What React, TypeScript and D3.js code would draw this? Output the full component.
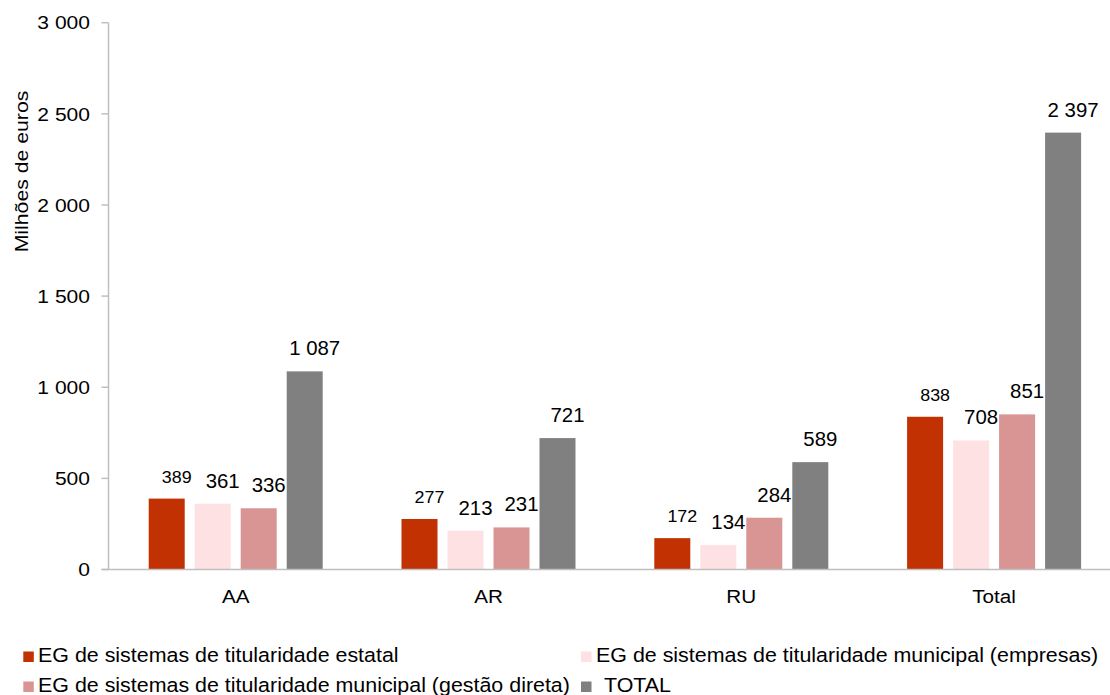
import * as d3 from "d3";
import React from "react";

// categories and values (millions of euros)
const categories = ["AA", "AR", "RU", "Total"];
const seriesNames = [
	"EG de sistemas de titularidade estatal",
	"EG de sistemas de titularidade municipal (empresas)",
	"EG de sistemas de titularidade municipal (gestão direta)",
	"TOTAL",
];
const estatal = [389, 277, 172, 838];
const municipalEmpresas = [361, 213, 134, 708];
const municipalDireta = [336, 231, 284, 851];
const total = [1087, 721, 589, 2397];
const yTicks = [0, 500, 1000, 1500, 2000, 2500, 3000];

const seriesValues = [estatal, municipalEmpresas, municipalDireta, total];
const colors = ["#C13102", "#FEE2E3", "#D99594", "#808080"];

const FONT = "'Liberation Sans', Arial, Helvetica, sans-serif";
const AXIS = "#BFBFBF";

const fmt = d3.formatLocale({
	decimal: ",",
	thousands: " ",
	grouping: [3],
	currency: ["", ""],
}).format(",d");

interface LabelProps {
	x: number;
	y: number;
	anchor?: "start" | "middle" | "end";
	size?: number;
	sx?: number;
	rotate?: number;
	children: React.ReactNode;
}

// Text in the source is drawn slightly wider than normal, so stretch along the baseline
const Label = ({ x, y, anchor = "start", size = 19, sx = 1.1, rotate, children }: LabelProps) => (
	<text
		transform={`translate(${x},${y})${rotate ? ` rotate(${rotate})` : ""} scale(${sx},1)`}
		textAnchor={anchor}
		fontSize={size}
		fontFamily={FONT}
		fill="#000"
	>
		{children}
	</text>
);

const App = () => {
	const width = 1110;
	const height = 695;

	const x0 = d3.scaleBand<string>().domain(categories).range([109.3, 1120.5]);
	const groupWidth = 174;
	const x1 = d3
		.scaleBand<number>()
		.domain(d3.range(seriesNames.length))
		.range([0, groupWidth])
		.paddingInner(10 / 46)
		.paddingOuter(0);
	const y = d3.scaleLinear().domain([0, 3000]).range([569.5, 22.7]);

	const axisX = 108.5;
	const groupStart = (c: string) => (x0(c) ?? 0) + (x0.bandwidth() - groupWidth) / 2;

	const legendItems = [
		{ i: 0, mx: 23.3, tx: 38, base: 662 },
		{ i: 1, mx: 581, tx: 596, base: 662 },
		{ i: 2, mx: 23.3, tx: 38, base: 692 },
		{ i: 3, mx: 581, tx: 604, base: 692 },
	];

	return (
		<svg
			width={width}
			height={height}
			viewBox={`0 0 ${width} ${height}`}
			style={{ position: "absolute", left: 0, top: 0, background: "#fff" }}
		>
			{/* y axis */}
			<line x1={axisX} x2={axisX} y1={y(3000)} y2={y(0)} stroke={AXIS} strokeWidth={1.5} />
			{yTicks.map((t) => (
				<g key={t}>
					<line x1={101.5} x2={axisX} y1={y(t)} y2={y(t)} stroke={AXIS} strokeWidth={1.5} />
					<Label x={90} y={y(t) + 6.7} anchor="end" size={18.8} sx={1.12}>
						{fmt(t)}
					</Label>
				</g>
			))}
			<Label x={27.5} y={171.5} anchor="middle" rotate={-90} size={18.8} sx={1.13}>
				Milhões de euros
			</Label>

			{/* bars */}
			{categories.map((c, ci) => (
				<g key={c} transform={`translate(${groupStart(c)},0)`}>
					{seriesValues.map((vals, si) => {
						const v = vals[ci];
						const bx = x1(si) ?? 0;
						const bw = x1.bandwidth();
						return (
							<g key={si}>
								<rect x={bx} y={y(v)} width={bw} height={y(0) - y(v)} fill={colors[si]} />
								<Label
									x={bx + bw / 2 + 10}
									y={y(v) - 16}
									anchor="middle"
									size={si === 0 ? 17 : 20}
									sx={si === 0 ? 1.05 : 1.02}
								>
									{fmt(v)}
								</Label>
							</g>
						);
					})}
				</g>
			))}

			{/* x axis */}
			<line x1={101.5} x2={width} y1={y(0)} y2={y(0)} stroke={AXIS} strokeWidth={1.5} />
			{categories.map((c) => (
				<Label key={c} x={(x0(c) ?? 0) + x0.bandwidth() / 2} y={602.5} anchor="middle" size={18.8} sx={1.1}>
					{c}
				</Label>
			))}

			{/* legend */}
			{legendItems.map((d) => (
				<g key={d.i}>
					<rect x={d.mx} y={d.base - 10.5} width={10.5} height={10.5} fill={colors[d.i]} />
					<Label x={d.tx} y={d.base} size={19.3} sx={1.11}>
						{seriesNames[d.i]}
					</Label>
				</g>
			))}
		</svg>
	);
};

export default App;
